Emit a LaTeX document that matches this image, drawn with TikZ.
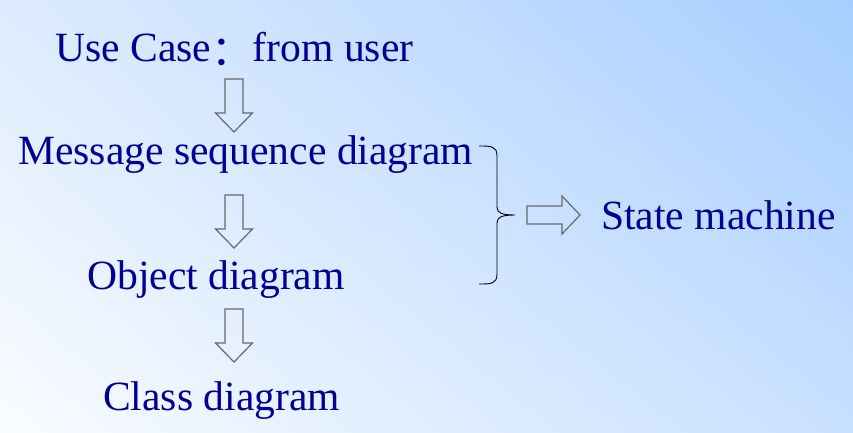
\documentclass[tikz,border=0pt]{standalone}
\usepackage{fontspec}
\usetikzlibrary{shadings}
\setmainfont{Liberation Serif}
\newfontfamily\cjk{Noto Sans CJK SC}
\definecolor{bgul}{RGB}{221,235,254}
\definecolor{bgur}{RGB}{166,206,255}
\definecolor{bgll}{RGB}{250,252,255}
\definecolor{bglr}{RGB}{200,224,255}
\definecolor{navytext}{RGB}{0,0,145}
\definecolor{arrowgray}{RGB}{105,105,105}
\tikzset{
  lbl/.style={anchor=base west, inner sep=0pt, text=navytext, font=\fontsize{41.6}{48}\selectfont},
  arrowline/.style={draw=arrowgray, line width=1.2pt, fill=none, line join=miter},
  pics/downarrow/.style={code={
    \draw[arrowline] (-9,0) -- (9,0) -- (9,34) -- (18.5,34) -- (0,53) -- (-18.5,34) -- (-9,34) -- cycle;}},
  pics/rightarrow/.style={code={
    \draw[arrowline] (0,-9) -- (35,-9) -- (35,-19) -- (53,0) -- (35,19) -- (35,9) -- (0,9) -- cycle;}}
}
\begin{document}
\begin{tikzpicture}[x=1pt,y=-1pt]
\useasboundingbox (0,0) rectangle (853,433);
\shade[upper left=bgul, upper right=bgur, lower left=bgll, lower right=bglr] (0,0) rectangle (853,433);

\node[lbl] (usecase) at (55,62) {Use Case\raisebox{-4pt}{\cjk ：}from user};
\node[lbl] (msd) at (18,164) {Message sequence diagram};
\node[lbl] (obj) at (87,289) {Object diagram};
\node[lbl] (cls) at (103,410) {Class diagram};
\node[lbl] (sm) at (601,229) {State machine};

\pic at (234,79) {downarrow};
\pic at (234,195) {downarrow};
\pic at (234,309) {downarrow};
\pic at (527,215) {rightarrow};

\coordinate (bracetop) at (479,146);
\coordinate (bracebot) at (479,284);
\coordinate (bracetip) at (515,215);
\draw[black, line width=0.9pt]
  (bracetop) .. controls (491,146) and (497,146) .. (497,156)
  -- (497,207) .. controls (497,213) and (502,215) .. (bracetip)
  .. controls (502,215) and (497,217) .. (497,223)
  -- (497,274) .. controls (497,284) and (491,284) .. (bracebot);
\end{tikzpicture}
\end{document}
